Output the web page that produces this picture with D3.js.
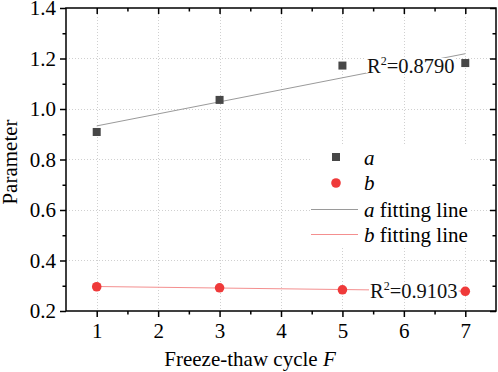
<!DOCTYPE html>
<html>
<head>
<meta charset="utf-8">
<script src="https://cdnjs.cloudflare.com/ajax/libs/d3/7.8.5/d3.min.js"></script>
<style>
  body { margin: 0; background: #fff; }
  svg { display: block; font-family: "Liberation Serif", "Times New Roman", serif; }
</style>
</head>
<body>
<svg id="chart"></svg>
<script>
// data
var cycles = [1, 3, 5, 7];
var aValues = [0.909, 1.036, 1.172, 1.182];
var bValues = [0.296, 0.292, 0.284, 0.278];
var fitX = [1, 7];
var aFit = [0.933, 1.219];
var bFit = [0.297, 0.279];
var xTicks = [1, 2, 3, 4, 5, 6, 7];
var xMinor = [1.5, 2.5, 3.5, 4.5, 5.5, 6.5];
var yTicks = [0.2, 0.4, 0.6, 0.8, 1.0, 1.2, 1.4];
var yMinor = [0.3, 0.5, 0.7, 0.9, 1.1, 1.3];
var r2a = "0.8790", r2b = "0.9103";

var svgWidth = 498, svgHeight = 372;
var pLeft = 66, pRight = 496, pTop = 8, pBottom = 311;
var fs = 21;

var svg = d3.select('#chart').attr('width', svgWidth).attr('height', svgHeight);

var xScale = d3.scaleLinear().domain([0.5, 7.5]).range([pLeft, pRight]);
var yScale = d3.scaleLinear().domain([0.2, 1.4]).range([pBottom, pTop]);

// grid
var grid = svg.append('g').attr('stroke', '#d0d0d0').attr('stroke-width', 1).attr('stroke-dasharray', '1,2');
grid.selectAll('.gx').data(xTicks).enter().append('line')
    .attr('x1', function(d){ return Math.round(xScale(d)) + 0.5; })
    .attr('x2', function(d){ return Math.round(xScale(d)) + 0.5; })
    .attr('y1', pTop).attr('y2', pBottom);
grid.selectAll('.gy').data(yTicks.slice(1, -1)).enter().append('line')
    .attr('y1', function(d){ return Math.round(yScale(d)) + 0.5; })
    .attr('y2', function(d){ return Math.round(yScale(d)) + 0.5; })
    .attr('x1', pLeft).attr('x2', pRight);

// legend background hides grid
svg.append('rect').attr('x', 310).attr('y', 144).attr('width', 160).attr('height', 102).attr('fill', '#fff');

// fitting lines
var line = d3.line().x(function(d){ return xScale(d[0]); }).y(function(d){ return yScale(d[1]); });
svg.append('path').datum(d3.zip(fitX, aFit)).attr('d', line)
    .attr('fill', 'none').attr('stroke', '#9a9a9a').attr('stroke-width', 1);
svg.append('path').datum(d3.zip(fitX, bFit)).attr('d', line)
    .attr('fill', 'none').attr('stroke', '#f48f8f').attr('stroke-width', 1);

// R2 labels with white background
function r2Label(x, y, val) {
  var g = svg.append('g');
  var bg = g.append('rect').attr('fill', '#fff');
  var t = g.append('text').attr('x', x).attr('y', y).attr('font-size', 20.5).attr('fill', '#111');
  t.append('tspan').text('R');
  t.append('tspan').attr('font-size', 12).attr('dy', -8).text('2');
  t.append('tspan').attr('dy', 8).text('=' + val);
  var bb = t.node().getBBox();
  bg.attr('x', bb.x - 1).attr('y', bb.y + 4).attr('width', bb.width + 2).attr('height', bb.height - 8);
}
r2Label(367, 73, r2a);
r2Label(370, 298, r2b);

// points
svg.selectAll('.sq').data(d3.zip(cycles, aValues)).enter().append('rect')
    .attr('x', function(d){ return xScale(d[0]) - 4; })
    .attr('y', function(d){ return yScale(d[1]) - 4; })
    .attr('width', 8).attr('height', 8).attr('fill', '#474747');
svg.selectAll('.ci').data(d3.zip(cycles, bValues)).enter().append('circle')
    .attr('cx', function(d){ return xScale(d[0]); })
    .attr('cy', function(d){ return yScale(d[1]); })
    .attr('r', 4.8).attr('fill', '#ef3a3a');

// axes
function styleAxis(g) {
  g.select('.domain').remove();
  g.selectAll('line').attr('stroke', '#000').attr('stroke-width', 1.5);
}
var xBottom = svg.append('g').attr('transform', 'translate(0,' + pBottom + ')')
    .call(d3.axisBottom(xScale).tickValues(xTicks).tickSize(6).tickPadding(6).tickFormat(d3.format('d')));
var xBottomMinor = svg.append('g').attr('transform', 'translate(0,' + pBottom + ')')
    .call(d3.axisBottom(xScale).tickValues(xMinor).tickSize(3.5).tickFormat(''));
var xTop = svg.append('g').attr('transform', 'translate(0,' + pTop + ')')
    .call(d3.axisTop(xScale).tickValues(xTicks).tickSize(-6).tickFormat(''));
var xTopMinor = svg.append('g').attr('transform', 'translate(0,' + pTop + ')')
    .call(d3.axisTop(xScale).tickValues(xMinor).tickSize(-3.5).tickFormat(''));
var yLeft = svg.append('g').attr('transform', 'translate(' + pLeft + ',0)')
    .call(d3.axisLeft(yScale).tickValues(yTicks).tickSize(6).tickPadding(4).tickFormat(d3.format('.1f')));
var yLeftMinor = svg.append('g').attr('transform', 'translate(' + pLeft + ',0)')
    .call(d3.axisLeft(yScale).tickValues(yMinor).tickSize(3.5).tickFormat(''));
var yRight = svg.append('g').attr('transform', 'translate(' + pRight + ',0)')
    .call(d3.axisRight(yScale).tickValues(yTicks).tickSize(-6).tickFormat(''));
var yRightMinor = svg.append('g').attr('transform', 'translate(' + pRight + ',0)')
    .call(d3.axisRight(yScale).tickValues(yMinor).tickSize(-3.5).tickFormat(''));
[xBottom, xBottomMinor, xTop, xTopMinor, yLeft, yLeftMinor, yRight, yRightMinor].forEach(styleAxis);
svg.selectAll('.tick text').attr('font-family', '"Liberation Serif", serif').attr('font-size', fs).attr('fill', '#000');

svg.append('rect').attr('x', pLeft).attr('y', pTop).attr('width', pRight - pLeft).attr('height', pBottom - pTop)
    .attr('fill', 'none').attr('stroke', '#000').attr('stroke-width', 1.5);

// titles
svg.append('text').attr('x', 250).attr('y', 366).attr('text-anchor', 'middle').attr('font-size', fs)
    .html('Freeze-thaw cycle <tspan font-style="italic">F</tspan>');
svg.append('text').attr('transform', 'translate(17,162) rotate(-90)').attr('text-anchor', 'middle')
    .attr('font-size', fs).text('Parameter');

// legend
var lx = 336, tx = 364;
var legend = svg.append('g').attr('font-size', fs);
legend.append('rect').attr('x', lx - 4).attr('y', 157 - 4).attr('width', 8).attr('height', 8).attr('fill', '#474747');
legend.append('circle').attr('cx', lx).attr('cy', 183).attr('r', 4.8).attr('fill', '#ef3a3a');
legend.append('line').attr('x1', 311).attr('x2', 358).attr('y1', 209.5).attr('y2', 209.5).attr('stroke', '#9a9a9a');
legend.append('line').attr('x1', 311).attr('x2', 358).attr('y1', 234.5).attr('y2', 234.5).attr('stroke', '#f48f8f');
legend.append('text').attr('x', tx).attr('y', 165).attr('font-style', 'italic').text('a');
legend.append('text').attr('x', tx).attr('y', 190).attr('font-style', 'italic').text('b');
legend.append('text').attr('x', tx).attr('y', 217).html('<tspan font-style="italic">a</tspan> fitting line');
legend.append('text').attr('x', tx).attr('y', 242).html('<tspan font-style="italic">b</tspan> fitting line');
</script>
</body>
</html>
